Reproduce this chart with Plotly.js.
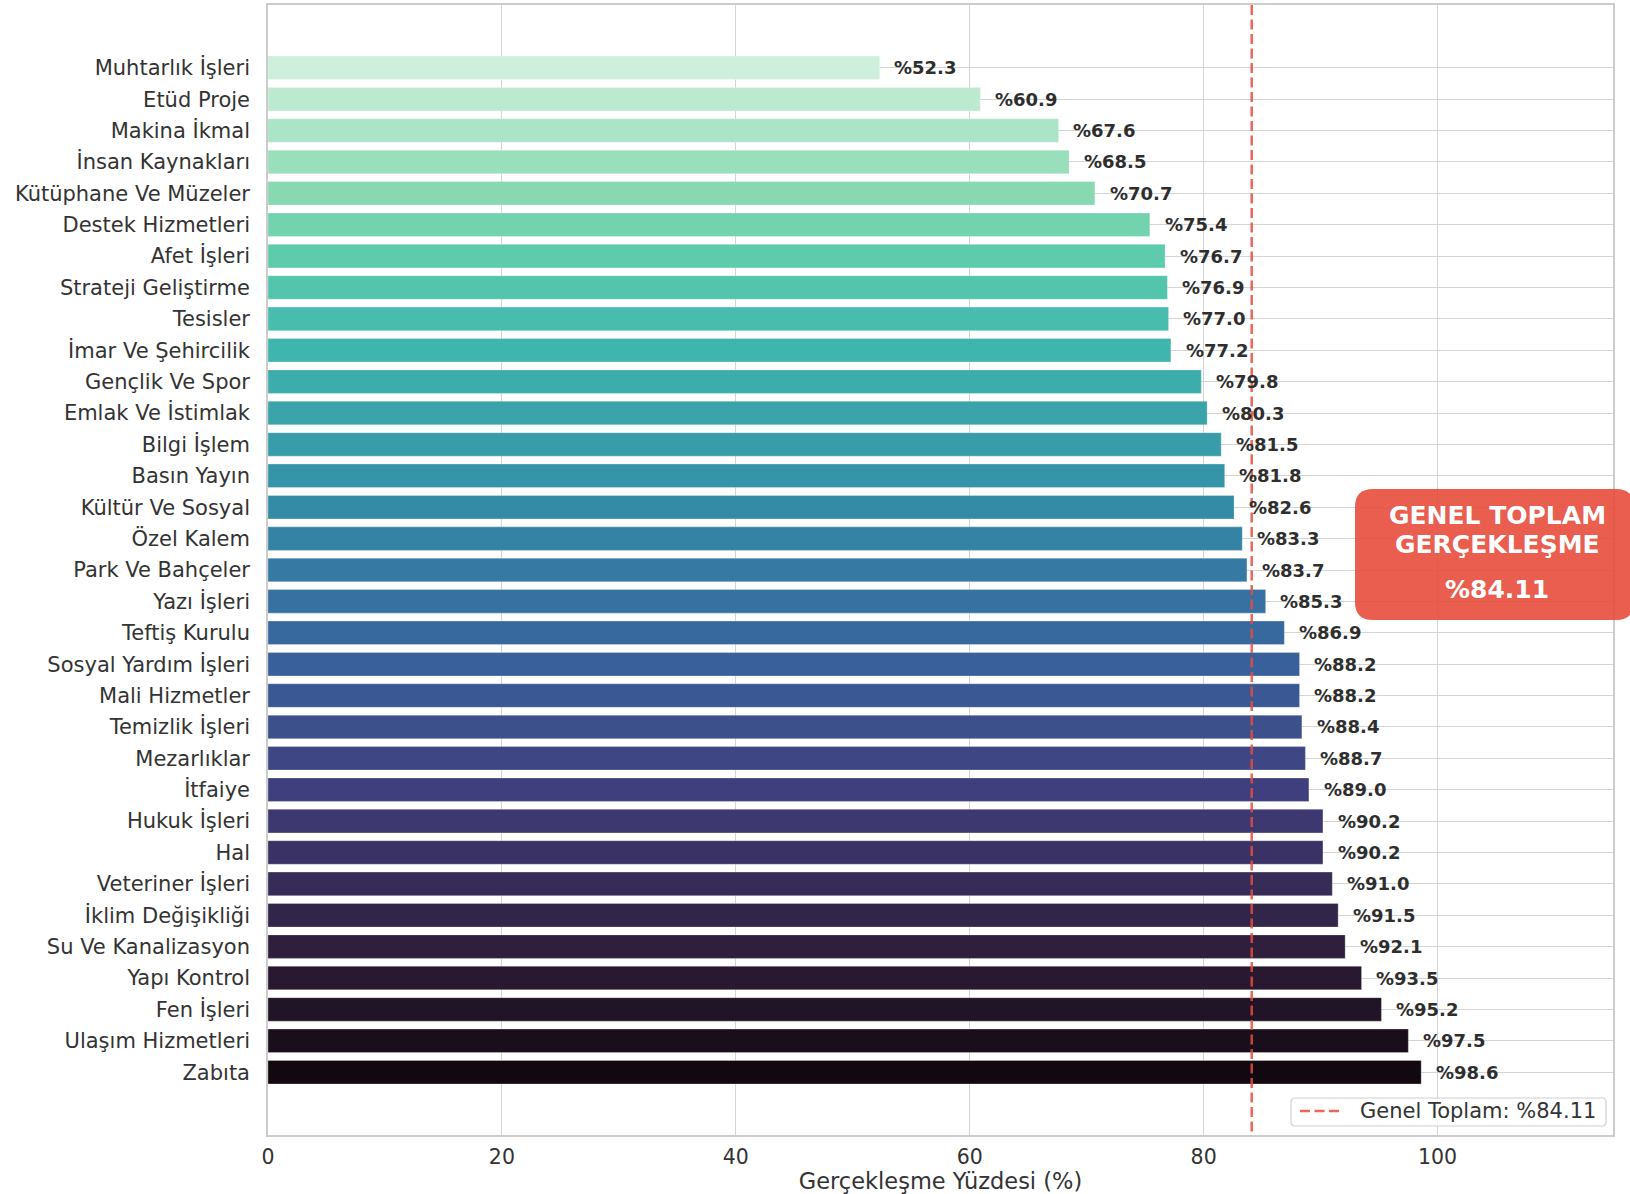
<!DOCTYPE html>
<html>
<head>
<meta charset="utf-8">
<script src="https://cdn.plot.ly/plotly-3.0.1.min.js"></script>
<style>
  html, body { margin: 0; padding: 0; background: #ffffff; }
  #chart { width: 1630px; height: 1194px; }
</style>
</head>
<body>
<div id="chart"></div>
<script>
// ---- Data (top to bottom) ----
const categories = [
  "Muhtarlık İşleri", "Etüd Proje", "Makina İkmal", "İnsan Kaynakları",
  "Kütüphane Ve Müzeler", "Destek Hizmetleri", "Afet İşleri", "Strateji Geliştirme",
  "Tesisler", "İmar Ve Şehircilik", "Gençlik Ve Spor", "Emlak Ve İstimlak",
  "Bilgi İşlem", "Basın Yayın", "Kültür Ve Sosyal", "Özel Kalem",
  "Park Ve Bahçeler", "Yazı İşleri", "Teftiş Kurulu", "Sosyal Yardım İşleri",
  "Mali Hizmetler", "Temizlik İşleri", "Mezarlıklar", "İtfaiye",
  "Hukuk İşleri", "Hal", "Veteriner İşleri", "İklim Değişikliği",
  "Su Ve Kanalizasyon", "Yapı Kontrol", "Fen İşleri", "Ulaşım Hizmetleri", "Zabıta"
];
const values = [
  52.3, 60.9, 67.6, 68.5, 70.7, 75.4, 76.7, 76.9, 77.0, 77.2,
  79.8, 80.3, 81.5, 81.8, 82.6, 83.3, 83.7, 85.3, 86.9, 88.2,
  88.2, 88.4, 88.7, 89.0, 90.2, 90.2, 91.0, 91.5, 92.1, 93.5,
  95.2, 97.5, 98.6
];
const overallTotal = 84.11;
const xTickValues = [0, 20, 40, 60, 80, 100];
const legendLabel = 'Genel Toplam: %' + overallTotal.toFixed(2);
const boxTitleLines = ['GENEL TOPLAM', 'GERÇEKLEŞME'];

// ---- Style: mako colormap (reversed along the bars) ----
const makoStops = [
  [0.000, [11, 4, 5]],
  [0.143, [46, 30, 59]],
  [0.286, [65, 61, 123]],
  [0.429, [55, 101, 158]],
  [0.571, [52, 143, 167]],
  [0.714, [64, 183, 173]],
  [0.800, [96, 206, 172]],
  [0.857, [139, 218, 178]],
  [1.000, [222, 245, 229]]
];
function mako(t) {
  for (let k = 0; k < makoStops.length - 1; k++) {
    const [a, ca] = makoStops[k], [b, cb] = makoStops[k + 1];
    if (t >= a && t <= b) {
      const f = (t - a) / (b - a);
      const c = ca.map((v, j) => Math.round(v + (cb[j] - v) * f));
      return `rgb(${c[0]},${c[1]},${c[2]})`;
    }
  }
  return 'rgb(222,245,229)';
}
const n = categories.length;
const barColors = categories.map((_, i) => mako(1 - (i + 1) / (n + 1)));
const idx = categories.map((_, i) => i);

const FONT = "DejaVu Sans, Verdana, sans-serif";
const RED_LINE = 'rgba(231,76,60,0.85)';

const barTrace = {
  type: 'bar',
  orientation: 'h',
  x: values,
  y: idx,
  width: 0.75,
  marker: { color: barColors, line: { color: 'rgba(255,255,255,0.35)', width: 0.8 } },
  showlegend: false,
  hoverinfo: 'x+text',
  text: categories,
  textposition: 'none'
};

const lineTrace = {
  type: 'scatter',
  mode: 'lines',
  x: [overallTotal, overallTotal],
  y: [-2, n + 1],
  line: { color: RED_LINE, width: 2.5, dash: '10px,4.5px' },
  name: legendLabel,
  showlegend: false
};

// value labels
const valueAnnotations = values.map((v, i) => ({
  x: v + 1, y: i, xref: 'x', yref: 'y',
  text: '%' + v.toFixed(1),
  showarrow: false, xanchor: 'left', yanchor: 'middle', xshift: 1,
  font: { family: FONT, size: 18, color: '#2e2e2e', weight: 'bold' }
}));

// geometry helpers (pixel -> paper)
const L = 268, R = 1613, T = 5, B = 1135;
const px = x => (x - L) / (R - L);
const py = y => (B - y) / (B - T);

function roundedRect(x0p, y0p, x1p, y1p, r) {
  const x0 = px(x0p), x1 = px(x1p), yt = py(y0p), yb = py(y1p);
  const rx = r / (R - L), ry = r / (B - T);
  return `M ${x0 + rx},${yt} L ${x1 - rx},${yt} Q ${x1},${yt} ${x1},${yt - ry} ` +
    `L ${x1},${yb + ry} Q ${x1},${yb} ${x1 - rx},${yb} L ${x0 + rx},${yb} ` +
    `Q ${x0},${yb} ${x0},${yb + ry} L ${x0},${yt - ry} Q ${x0},${yt} ${x0 + rx},${yt} Z`;
}

// Summary box
const boxFont = { family: FONT, size: 25, color: '#ffffff', weight: 'bold' };
const boxLines = [
  { text: boxTitleLines[0], y: py(515) },
  { text: boxTitleLines[1], y: py(544) },
  { text: '%' + overallTotal.toFixed(2), y: py(589) }
];
const boxAnnotations = boxLines.map(b => ({
  x: px(1497), y: b.y, xref: 'paper', yref: 'paper',
  text: b.text, showarrow: false, xanchor: 'center', yanchor: 'middle',
  font: boxFont
}));

// Custom legend (box + dashed sample + label)
const legendAnnotation = {
  x: px(1358), y: py(1111), xref: 'paper', yref: 'paper',
  text: legendLabel, showarrow: false, xanchor: 'left', yanchor: 'middle',
  font: { family: FONT, size: 21, color: '#333333' }
};

const layout = {
  width: 1630, height: 1194,
  margin: { l: L, r: 1630 - R, t: T, b: 1194 - B, pad: 0 },
  paper_bgcolor: '#ffffff',
  plot_bgcolor: '#ffffff',
  font: { family: FONT, color: '#333333' },
  showlegend: false,
  xaxis: {
    range: [0, 115],
    autorange: false,
    tickvals: xTickValues,
    ticktext: xTickValues.map(String),
    showgrid: true, gridcolor: '#d4d4d4', gridwidth: 1.3,
    zeroline: false,
    showline: true, linecolor: '#cccccc', linewidth: 1.6, mirror: true,
    ticks: 'outside', ticklen: 3, tickcolor: 'rgba(0,0,0,0)',
    tickfont: { family: FONT, size: 20.5, color: '#333333' },
    title: { text: 'Gerçekleşme Yüzdesi (%)', font: { family: FONT, size: 22.5, color: '#333333' }, standoff: 6 },
    automargin: false
  },
  yaxis: {
    range: [n + 1, -2],
    autorange: false,
    tickvals: idx,
    ticktext: categories,
    showgrid: true, gridcolor: '#d4d4d4', gridwidth: 1.3,
    zeroline: false,
    showline: true, linecolor: '#cccccc', linewidth: 1.6, mirror: true,
    ticks: 'outside', ticklen: 12, tickcolor: 'rgba(0,0,0,0)',
    tickfont: { family: FONT, size: 21, color: '#333333' },
    automargin: false
  },
  shapes: [
    {
      type: 'path', xref: 'paper', yref: 'paper', path: roundedRect(1355, 489, 1634, 620, 18),
      fillcolor: 'rgba(231,76,60,0.9)', line: { width: 0 }, layer: 'above'
    },
    {
      type: 'path', xref: 'paper', yref: 'paper', path: roundedRect(1291, 1098, 1606, 1126, 4),
      fillcolor: 'rgba(255,255,255,0.85)', line: { color: '#d0d0d0', width: 1.2 }, layer: 'above'
    },
    {
      type: 'line', xref: 'paper', yref: 'paper',
      x0: px(1300), x1: px(1342), y0: py(1111), y1: py(1111),
      line: { color: RED_LINE, width: 2.5, dash: '10px,4.5px' }, layer: 'above'
    }
  ],
  annotations: valueAnnotations.concat(boxAnnotations, [legendAnnotation])
};

Plotly.newPlot('chart', [barTrace, lineTrace], layout, { displayModeBar: false, responsive: false });
</script>
</body>
</html>
